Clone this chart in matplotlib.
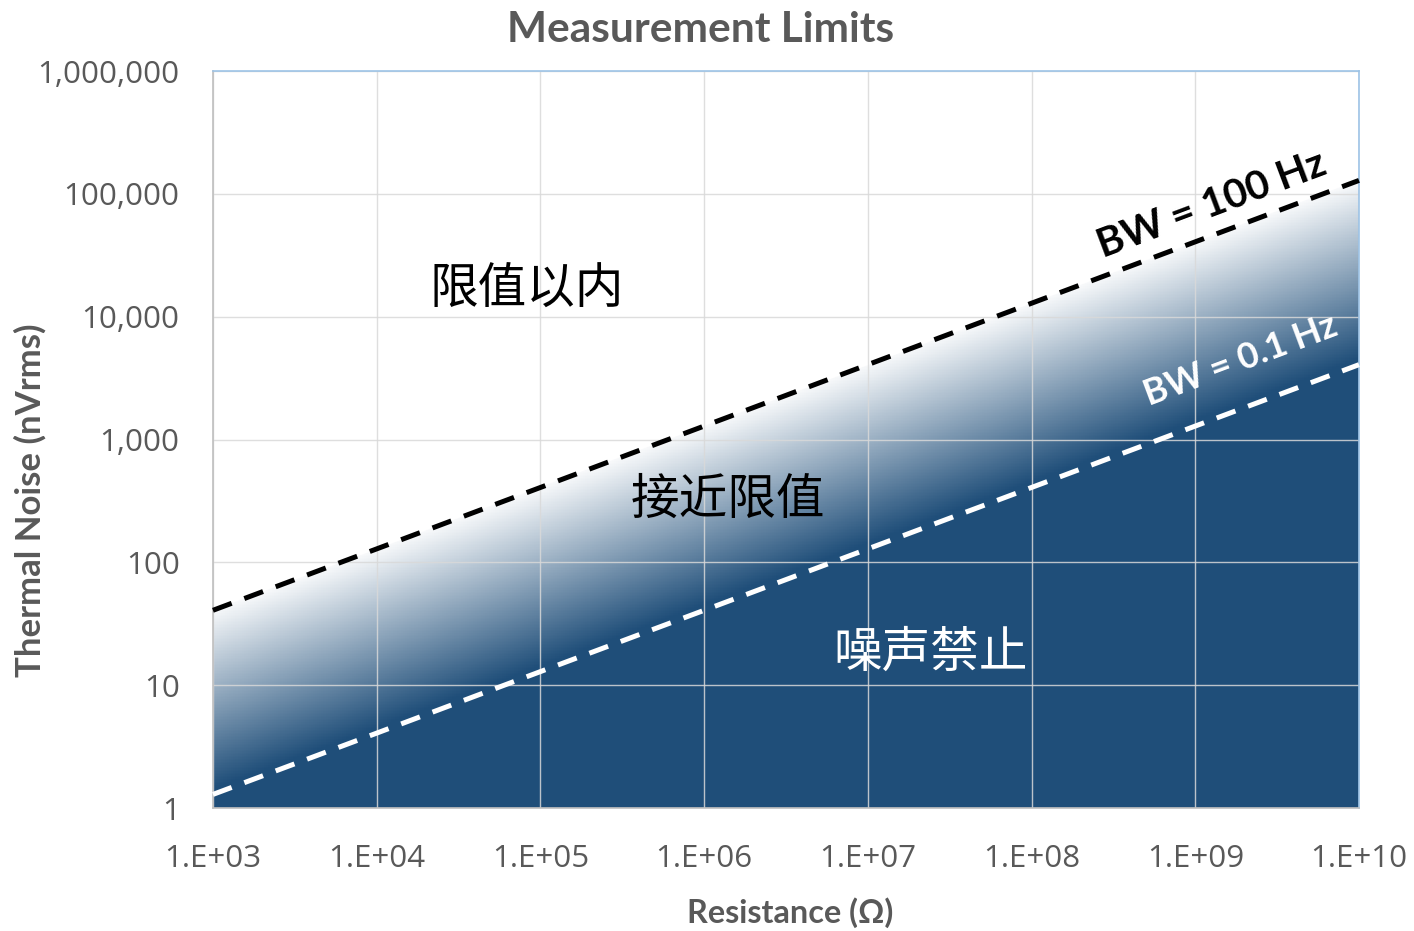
import numpy as np
import matplotlib
matplotlib.use("Agg")
import matplotlib.pyplot as plt
from matplotlib.patches import Polygon
from matplotlib.ticker import FixedLocator, NullLocator, FixedFormatter
from matplotlib.colors import to_rgb

# Thermal noise of a resistor (nVrms) at two measurement bandwidths
resistance_ohm = [1e3, 1e4, 1e5, 1e6, 1e7, 1e8, 1e9, 1e10]
noise_bw_100hz = [40.7, 128.7, 407, 1287, 4070, 12870, 40700, 128700]
noise_bw_0p1hz = [1.29, 4.07, 12.9, 40.7, 128.7, 407, 1287, 4070]

x_tick_values = [1e3, 1e4, 1e5, 1e6, 1e7, 1e8, 1e9, 1e10]
x_tick_labels = ["1.E+03", "1.E+04", "1.E+05", "1.E+06",
                 "1.E+07", "1.E+08", "1.E+09", "1.E+10"]
y_tick_values = [1, 10, 100, 1000, 10000, 100000, 1000000]
y_tick_labels = ["1", "10", "100", "1,000", "10,000", "100,000", "1,000,000"]

zone_labels = ["限值以内", "接近限值", "噪声禁止"]
line_labels = ["BW = 100 Hz", "BW = 0.1 Hz"]

DARK_BLUE = "#1F4E79"
GRAY_TEXT = "#595959"
CJK = ["Noto Sans CJK SC", "DejaVu Sans"]

fig = plt.figure(figsize=(14.14, 9.31), dpi=100)
ax = fig.add_axes([0.1506, 0.1321, 0.8105, 0.7916])
ax.set_xscale("log")
ax.set_yscale("log")
ax.set_xlim(x_tick_values[0], x_tick_values[-1])
ax.set_ylim(y_tick_values[0], y_tick_values[-1])
ax.set_facecolor("white")

# Gradient shading: near-white just under the 100 Hz line fading linearly into
# dark blue, with bands parallel to the line (depth in decades below it)
lx = np.linspace(3, 10, 561)
ly = np.linspace(0, 6, 481)
xc = 0.5 * (lx[:-1] + lx[1:])
yc = 0.5 * (ly[:-1] + ly[1:])
upper_log = np.interp(xc, np.log10(resistance_ohm), np.log10(noise_bw_100hz))
d = upper_log[None, :] - yc[:, None]
t = np.clip((d + 0.05) / 1.5, 0, 1)
white = np.array([1.0, 1.0, 1.0])
blue = np.array(to_rgb(DARK_BLUE))
rgb = white[None, None, :] * (1 - t[..., None]) + blue[None, None, :] * t[..., None]
mesh = ax.pcolormesh(10 ** lx, 10 ** ly, rgb, shading="flat", zorder=0.5,
                     rasterized=True)
clip_verts = list(zip(resistance_ohm, noise_bw_100hz)) + [
    (resistance_ohm[-1], 0.5), (resistance_ohm[0], 0.5)]
clip_poly = Polygon(clip_verts, closed=True, transform=ax.transData)
mesh.set_clip_path(clip_poly)

# Gridlines above the shading, below the curves
ax.set_axisbelow("line")
ax.grid(True, which="major", color="#D9D9D9", lw=1.0, alpha=0.85)

ax.plot(resistance_ohm, noise_bw_100hz, color="black", lw=3.6,
        dashes=(4.0, 2.7), zorder=3, clip_on=False)
ax.plot(resistance_ohm, noise_bw_0p1hz, color="white", lw=3.6,
        dashes=(4.0, 2.7), zorder=3, clip_on=False)

ax.xaxis.set_major_locator(FixedLocator(x_tick_values))
ax.xaxis.set_major_formatter(FixedFormatter(x_tick_labels))
ax.yaxis.set_major_locator(FixedLocator(y_tick_values))
ax.yaxis.set_major_formatter(FixedFormatter(y_tick_labels))
ax.xaxis.set_minor_locator(NullLocator())
ax.yaxis.set_minor_locator(NullLocator())
ax.tick_params(axis="both", length=0, labelcolor=GRAY_TEXT)
ax.tick_params(axis="x", pad=26)
ax.tick_params(axis="y", pad=24)
for lab in ax.get_xticklabels() + ax.get_yticklabels():
    lab.set_fontfamily("Open Sans")
    lab.set_fontsize(22.5)

for side in ("left", "bottom"):
    ax.spines[side].set_color("#BFBFBF")
    ax.spines[side].set_linewidth(1.2)
for side in ("top", "right"):
    ax.spines[side].set_color("#9DC3E6")
    ax.spines[side].set_linewidth(1.2)

# Line labels rotated along the curves
p0 = ax.transData.transform((resistance_ohm[0], noise_bw_100hz[0]))
p1 = ax.transData.transform((resistance_ohm[-1], noise_bw_100hz[-1]))
angle = np.degrees(np.arctan2(p1[1] - p0[1], p1[0] - p0[0]))
ax.text(0.7766, 0.746, line_labels[0], transform=ax.transAxes, rotation=angle,
        rotation_mode="anchor", ha="left", va="baseline", color="black",
        fontsize=29, fontweight="bold", family="Lato", zorder=4)
ax.text(0.817, 0.545, line_labels[1], transform=ax.transAxes, rotation=angle,
        rotation_mode="anchor", ha="left", va="baseline", color="white",
        fontsize=26, fontweight="bold", family="Lato", zorder=4)

# Zone labels
ax.text(0.274, 0.703, zone_labels[0], transform=ax.transAxes, ha="center",
        va="center", fontsize=35, color="black", family=CJK, zorder=4)
ax.text(0.449, 0.418, zone_labels[1], transform=ax.transAxes, ha="center",
        va="center", fontsize=35, color="black", family=CJK, zorder=4)
ax.text(0.626, 0.210, zone_labels[2], transform=ax.transAxes, ha="center",
        va="center", fontsize=35, color="white", family=CJK, zorder=4)

fig.text(0.4958, 0.9678, "Measurement Limits", ha="center", va="center",
         fontsize=30.5, fontweight="bold", family="Lato", color=GRAY_TEXT)
fig.text(0.0212, 0.463, "Thermal Noise (nVrms)", ha="center", va="center",
         rotation=90, fontsize=25, fontweight="bold", family="Lato",
         color=GRAY_TEXT)
fig.text(0.5587, 0.0193, "Resistance (Ω)", ha="center", va="center",
         fontsize=23.3, fontweight="bold", family="Lato", color=GRAY_TEXT)

fig.savefig("out.png", dpi=100)
